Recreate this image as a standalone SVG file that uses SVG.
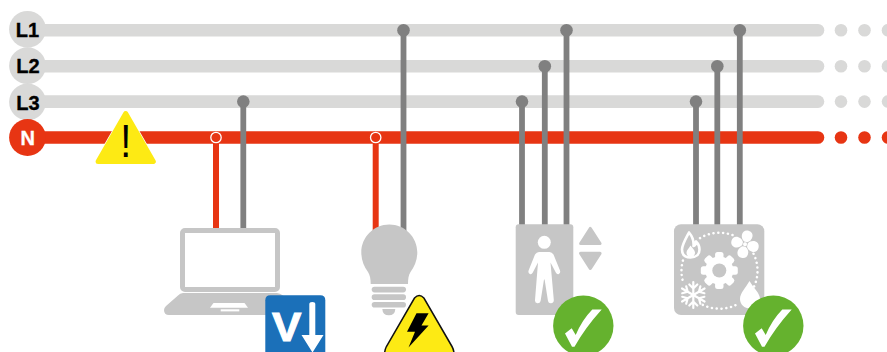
<svg xmlns="http://www.w3.org/2000/svg" width="887" height="352" viewBox="0 0 887 352">
<style>
.bus{stroke:#d9d9d8;stroke-width:12.6;stroke-linecap:round;fill:none}
.busn{stroke:#e73513;stroke-width:12.6;stroke-linecap:round;fill:none}
.dot{fill:#d9d9d8}
.dotn{fill:#e73513}
.lab{font-family:"Liberation Sans",Arial,sans-serif;font-weight:700;font-size:20px;text-anchor:middle;stroke-width:.35px}
.g{stroke:#808080;stroke-width:5.8;fill:none}
.gd{fill:#808080}
.r{stroke:#e73513;stroke-width:6;fill:none}
.ic{fill:#c6c6c6}
.w{fill:#fff}
.ok{fill:#65b22e}
</style>
<g id="bus-L1"><path class="bus" d="M30 30.3H818"/><circle class="dot" cx="27.5" cy="29.3" r="18.4"/><text class="lab" x="27.5" y="37" stroke="#000">L1</text><circle class="dot" cx="841" cy="30.3" r="6.3"/><circle class="dot" cx="864.5" cy="30.3" r="6.3"/><circle class="dot" cx="888" cy="30.3" r="6.3"/></g>
<g id="bus-L2"><path class="bus" d="M30 66.3H818"/><circle class="dot" cx="27.5" cy="65.7" r="18.4"/><text class="lab" x="28" y="73.3" stroke="#000">L2</text><circle class="dot" cx="841" cy="66.3" r="6.3"/><circle class="dot" cx="864.5" cy="66.3" r="6.3"/><circle class="dot" cx="888" cy="66.3" r="6.3"/></g>
<g id="bus-L3"><path class="bus" d="M30 101.6H818"/><circle class="dot" cx="27.5" cy="102" r="18.4"/><text class="lab" x="28" y="109.5" stroke="#000">L3</text><circle class="dot" cx="841" cy="101.6" r="6.3"/><circle class="dot" cx="864.5" cy="101.6" r="6.3"/><circle class="dot" cx="888" cy="101.6" r="6.3"/></g>
<g id="bus-N"><path class="busn" d="M30 137.5H818"/><circle class="dotn" cx="27.5" cy="137.5" r="18.4"/><text class="lab" x="27.7" y="144.6" fill="#fff" stroke="#fff">N</text><circle class="dotn" cx="841" cy="137.5" r="6.3"/><circle class="dotn" cx="864.5" cy="137.5" r="6.3"/><circle class="dotn" cx="888" cy="137.5" r="6.3"/></g>

<g id="connectors">
<path class="r" d="M216 137.5V229"/><circle cx="216" cy="137.5" r="5.2" fill="#e73513" stroke="#fff" stroke-width="1.3"/>
<path class="r" d="M375.7 137.5V234"/><circle cx="375.7" cy="137.5" r="5.2" fill="#e73513" stroke="#fff" stroke-width="1.3"/>
<path class="g" d="M243.3 101.6V229"/><circle class="gd" cx="243.3" cy="101.6" r="6.3"/>
<path class="g" d="M403.5 30.3V232"/><circle class="gd" cx="403.5" cy="30.3" r="6.3"/>
<path class="g" d="M522 101.6V225"/><circle class="gd" cx="522" cy="101.6" r="6.3"/>
<path class="g" d="M544.8 66.3V225"/><circle class="gd" cx="544.8" cy="66.3" r="6.3"/>
<path class="g" d="M566.5 30.3V225"/><circle class="gd" cx="566.5" cy="30.3" r="6.3"/>
<path class="g" d="M696 101.6V225"/><circle class="gd" cx="696" cy="101.6" r="6.3"/>
<path class="g" d="M717.3 66.3V225"/><circle class="gd" cx="717.3" cy="66.3" r="6.3"/>
<path class="g" d="M739.8 30.3V225"/><circle class="gd" cx="739.8" cy="30.3" r="6.3"/>
</g>

<g id="neutral-warning">
<path d="M125.7 113.5L153.3 161.5H98.1Z" fill="#fdea14" stroke="#fff" stroke-width="6.5" stroke-linejoin="round"/>
<path d="M125.7 113.5L153.3 161.5H98.1Z" fill="#fdea14" stroke="#fdea14" stroke-width="5" stroke-linejoin="round"/>
<text transform="translate(125.7 157) scale(.9 1.04)" font-family="'Liberation Sans',Arial,sans-serif" font-size="44" text-anchor="middle" fill="#000">!</text>
</g>

<g id="laptop">
<rect x="182.5" y="230.5" width="95" height="59" rx="2.5" fill="#fff" stroke="#c6c6c6" stroke-width="5"/>
<path class="ic" d="M183 293H277Q280 293 283 295.5L298 309V315H169Q164 315 164 310Q164 308 166 306L178 295.5Q180 293 183 293Z"/>
<path class="w" d="M213.5 303H244.5L248 307.7H210Z"/>
<path class="w" d="M220.7 309.3H239.3V311.4H220.7Z"/>
</g>
<g id="badge-voltage-drop">
<path d="M270.3 295.3H320.3Q325.3 295.3 325.3 300.3V352H265.3V300.3Q265.3 295.3 270.3 295.3Z" fill="#1b70b9"/>
<text transform="translate(286.7 341.1) scale(1.1 1)" font-family="'Liberation Sans',Arial,sans-serif" font-weight="700" font-size="40" text-anchor="middle" fill="#fff" stroke="#fff" stroke-width="1">V</text>
<path class="w" d="M309.3 304Q309.3 302 312.3 302Q315.3 302 315.3 304V335H323.5L312.5 352.5L301.5 335H309.3Z"/>
</g>

<g id="bulb">
<path class="ic" d="M389.3 224.5C404.8 224.5 417.3 237 417.3 252.5C417.3 260 414.5 266.5 410.5 272C408.5 275 408 279 408 284H370.7C370.7 279 370 275 368 272C364 266.5 361.3 260 361.3 252.5C361.3 237 373.8 224.5 389.3 224.5Z"/>
<rect class="ic" x="371.7" y="286.7" width="34.3" height="5.7" rx="2.8"/>
<rect class="ic" x="371.7" y="294.3" width="34.3" height="5.7" rx="2.8"/>
<rect class="ic" x="371.7" y="302" width="34.3" height="5.6" rx="2.8"/>
<path class="ic" d="M382.3 309H395.3Q395 315.3 388.8 315.3Q382.6 315.3 382.3 309Z"/>
</g>
<g id="badge-hazard">
<path d="M414.5 298Q419.2 293 423.9 298L452 346.5Q454 350 454 354H384.6Q384.6 350 386.4 346.5Z" fill="#fdea14" stroke="#111" stroke-width="1.5"/>
<path d="M416.5 313.3H428.6L421.5 325.5H428.6L408.5 347.5L415 331.7H407Z" fill="#000"/>
</g>

<g id="elevator">
<rect class="ic" x="515.7" y="224.3" width="57.6" height="90.7" rx="3"/>
<circle class="w" cx="544.3" cy="242.3" r="6.5"/>
<path class="w" d="M539 252H549.5Q552 252 553.5 254.5L560 270.5Q560.8 273 558.8 274Q557 274.7 555.8 272.5L550.5 262.5L553.8 300Q554 303 551 303.3Q548.5 303.5 548 301L544.6 279.5H544L540.6 301Q540 303.5 537.5 303.3Q534.7 303 535 300L538 262.5L532.8 272.5Q531.6 274.7 529.8 274Q527.8 273 528.6 270.5L535 254.5Q536.5 252 539 252Z"/>
<path class="ic" d="M590.3 228.5L600 243.5H580.7Z" stroke="#c6c6c6" stroke-width="3.2" stroke-linejoin="round"/>
<path class="ic" d="M580.7 253.3H600L590.3 268.3Z" stroke="#c6c6c6" stroke-width="3.2" stroke-linejoin="round"/>
</g>
<g id="badge-ok-elevator">
<circle class="ok" cx="583.3" cy="325.7" r="30.2"/>
<path class="w" d="M565 333.5L571.7 328.3L575.7 335Q582 320 592.3 309.5H601.7Q585 328 574.5 346.7H572Z"/>
</g>

<g id="hvac">
<rect class="ic" x="674" y="224.3" width="90.3" height="90.7" rx="7"/>
<path d="M700 238.1A38 38 0 0 1 733 235.2M753.5 253.7A38 38 0 0 1 753.5 287.7M735.5 305.2A38 38 0 0 1 700 303.3M682.5 279.7A38 38 0 0 1 683.5 258.7" fill="none" stroke="#fff" stroke-width="2.5" stroke-linecap="round" stroke-dasharray="0.1 4.7"/>
<g fill="#fff" transform="translate(719.3 270.5)">
<circle r="14"/>
<rect x="-4.2" y="-18.5" width="8.4" height="8" rx="2.5"/><rect x="-4.2" y="10.5" width="8.4" height="8" rx="2.5"/><rect x="-18.5" y="-4.2" width="8" height="8.4" rx="2.5"/><rect x="10.5" y="-4.2" width="8" height="8.4" rx="2.5"/><rect x="-4.2" y="-18.5" width="8.4" height="8" rx="2.5" transform="rotate(45)"/><rect x="-4.2" y="10.5" width="8.4" height="8" rx="2.5" transform="rotate(45)"/><rect x="-18.5" y="-4.2" width="8" height="8.4" rx="2.5" transform="rotate(45)"/><rect x="10.5" y="-4.2" width="8" height="8.4" rx="2.5" transform="rotate(45)"/>
<circle r="7" fill="#c6c6c6"/>
</g>
<g transform="translate(745 244.3) rotate(15)">
<g fill="#fff"><path d="M-1.5 -2.5C-7 -5 -7 -14 0 -14C7 -14 6.5 -5 1.5 -2.5Z"/><path d="M-1.5 -2.5C-7 -5 -7 -14 0 -14C7 -14 6.5 -5 1.5 -2.5Z" transform="rotate(90)"/><path d="M-1.5 -2.5C-7 -5 -7 -14 0 -14C7 -14 6.5 -5 1.5 -2.5Z" transform="rotate(180)"/><path d="M-1.5 -2.5C-7 -5 -7 -14 0 -14C7 -14 6.5 -5 1.5 -2.5Z" transform="rotate(270)"/></g>
<circle r="2" fill="#fff"/>
</g>
<path d="M689 232.5C685 240 682 245 682 249.5C682 255.5 686 257.5 690.5 257.5C696 257.5 699.5 254.5 699.5 249.5C699.5 246 698 243.5 696 241.5C696 244 695 245.5 693.5 246C694 241 692 236 689 232.5Z" fill="none" stroke="#fff" stroke-width="2.6" stroke-linejoin="round"/>
<path class="w" d="M690.5 245.5C689 248.5 686.5 250 686.5 252.5C686.5 255 688 257 690.8 257C693.5 257 695 255 695 252.5C695 250 692 248 690.5 245.5Z"/>
<g stroke="#fff" stroke-width="2.2" stroke-linecap="round" fill="none" transform="translate(693.3 295)">
<path d="M0 -13V13M-4 -10.5L0 -6.5L4 -10.5M-4 10.5L0 6.5L4 10.5"/>
<path d="M0 -13V13M-4 -10.5L0 -6.5L4 -10.5M-4 10.5L0 6.5L4 10.5" transform="rotate(60)"/>
<path d="M0 -13V13M-4 -10.5L0 -6.5L4 -10.5M-4 10.5L0 6.5L4 10.5" transform="rotate(120)"/>
</g>
<path class="w" d="M749.5 281C745.5 288 740 293 740 299C740 304.5 744.5 308.5 750 308.5C755.5 308.5 760 304.5 760 299C760 293 753.5 288 749.5 281Z"/>
</g>
<g id="badge-ok-hvac">
<circle class="ok" cx="773.3" cy="325.7" r="30.2"/>
<path class="w" d="M755 333.5L761.7 328.3L765.7 335Q772 320 782.3 309.5H791.7Q775 328 764.5 346.7H762Z"/>
</g>
</svg>
